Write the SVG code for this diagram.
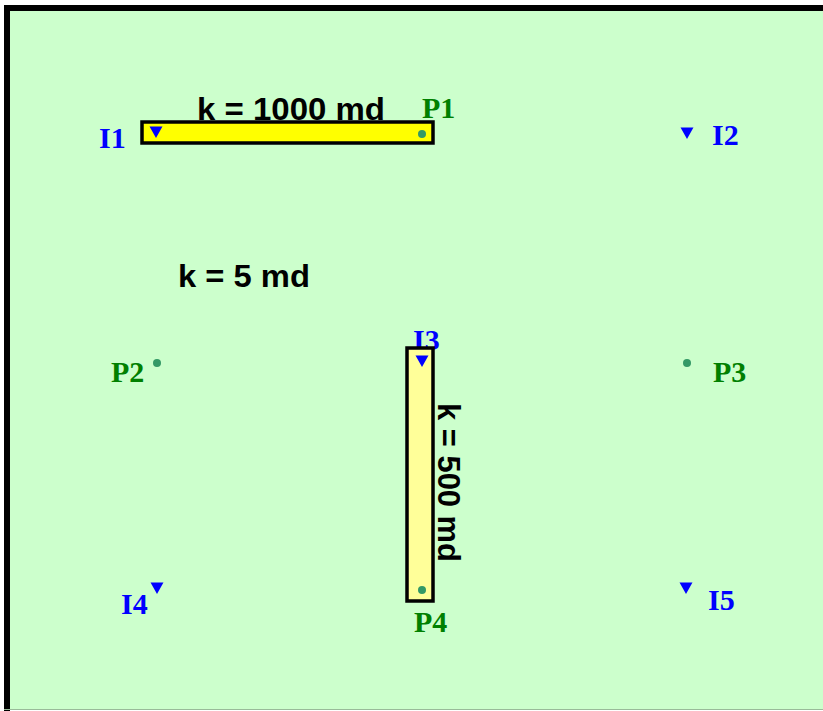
<svg xmlns="http://www.w3.org/2000/svg" width="823" height="711" viewBox="0 0 823 711">
<style>
.k{font-family:"Liberation Sans",Arial,sans-serif;font-weight:bold;font-size:32px;fill:#000}
.inj{font-family:"Liberation Serif","Times New Roman",serif;font-weight:bold;font-size:30px;fill:#0000ff}
.prod{font-family:"Liberation Serif","Times New Roman",serif;font-weight:bold;font-size:30px;fill:#008000}
.tri{fill:#0000ff}
.dot{fill:#339966}
.frac{stroke:#000;stroke-width:3.5}
</style>
<defs>
<path id="down" d="M-6.5,-5.5 L6.5,-5.5 L0,6 Z"/>
</defs>
<rect x="0" y="0" width="823" height="711" fill="#ffffff"/>
<rect x="4" y="5" width="830" height="705" fill="#ccffcc"/>
<rect x="4" y="5" width="830" height="6" fill="#000"/>
<rect x="4" y="5" width="6" height="706" fill="#000"/>
<line x1="4" y1="709.5" x2="823" y2="709.5" stroke="#99bb99" stroke-width="1"/>
<g id="connectors"/>
<g id="fracture1">
<text class="k" x="197" y="120" textLength="188" lengthAdjust="spacingAndGlyphs">k = 1000 md</text>
<rect class="frac" x="142" y="122" width="291" height="21" fill="#ffff00"/>
</g>
<g id="matrix">
<text class="k" x="178" y="287" textLength="132" lengthAdjust="spacingAndGlyphs">k = 5 md</text>
</g>
<g id="fracture2">
<text class="inj" x="413" y="350">I3</text>
<rect class="frac" x="407" y="348" width="26" height="253" fill="#ffff99"/>
<text class="k" transform="translate(438,403) rotate(90)" textLength="159" lengthAdjust="spacingAndGlyphs">k = 500 md</text>
</g>
<g id="I1">
<use href="#down" class="tri" x="156" y="132"/>
<text class="inj" x="99" y="148">I1</text>
</g>
<g id="P1">
<circle class="dot" cx="422" cy="134" r="4"/>
<text class="prod" x="422" y="118">P1</text>
</g>
<g id="I2">
<use href="#down" class="tri" x="687" y="133"/>
<text class="inj" x="712" y="145">I2</text>
</g>
<g id="P2">
<circle class="dot" cx="157" cy="363" r="4"/>
<text class="prod" x="111" y="382">P2</text>
</g>
<g id="P3">
<circle class="dot" cx="687" cy="363" r="4"/>
<text class="prod" x="713" y="382">P3</text>
</g>
<g id="I3">
<use href="#down" class="tri" x="422" y="361"/>
</g>
<g id="P4">
<circle class="dot" cx="422" cy="590" r="4"/>
<text class="prod" x="414" y="632">P4</text>
</g>
<g id="I4">
<use href="#down" class="tri" x="157" y="588"/>
<text class="inj" x="121" y="614">I4</text>
</g>
<g id="I5">
<use href="#down" class="tri" x="686" y="588"/>
<text class="inj" x="708" y="610">I5</text>
</g>
</svg>
